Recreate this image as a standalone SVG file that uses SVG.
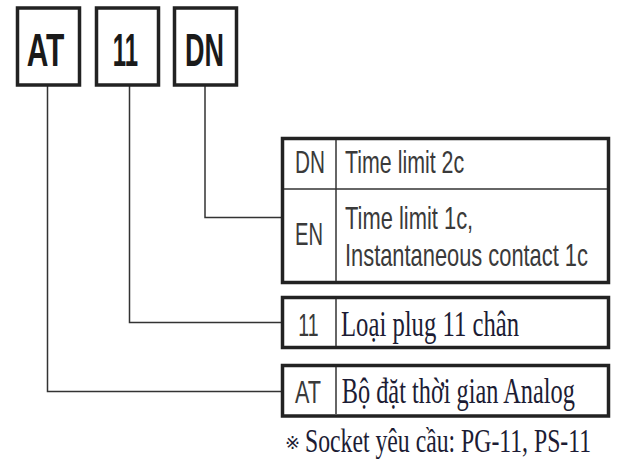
<svg xmlns="http://www.w3.org/2000/svg" width="619" height="460" viewBox="0 0 619 460">
<style>
.box{fill:#fff;stroke:#222;stroke-width:3.5}
.div{stroke:#333;stroke-width:1.5;fill:none}
.conn{stroke:#333;stroke-width:1.5;fill:none}
.big{font-family:"Liberation Sans",Arial,sans-serif;font-weight:bold;font-size:46px;fill:#1a1a1a}
.lab{font-family:"Liberation Sans",Arial,sans-serif;font-size:32px;fill:#3a3a3a}
.ser{font-family:"Liberation Serif","Times New Roman",serif;font-size:36px;fill:#1c1c34}
.note{font-family:"Liberation Serif","Times New Roman",serif;font-size:34px;fill:#1c1c34}
.mark{font-family:"DejaVu Sans",sans-serif;font-size:18px;fill:#1c1c34}
</style>
<rect width="619" height="460" fill="#fff"/>
<g id="connectors">
<polyline class="conn" points="47.5,86 47.5,391.5 283,391.5"/>
<polyline class="conn" points="129.5,86 129.5,322.5 283,322.5"/>
<polyline class="conn" points="205,86 205,217.5 283,217.5"/>
</g>
<g id="node-AT">
<rect class="box" x="17.5" y="8" width="62" height="77"/>
<text class="big" transform="translate(26.7,66) scale(0.652,1)">AT</text>
</g>
<g id="node-11">
<rect class="box" x="96.5" y="8" width="62" height="77"/>
<text class="big" transform="translate(112.7,66) scale(0.52,1)">11</text>
</g>
<g id="node-DN">
<rect class="box" x="174.5" y="8" width="62" height="77"/>
<text class="big" transform="translate(185,66) scale(0.587,1)">DN</text>
</g>
<g id="table-DN-EN">
<rect class="box" x="282.5" y="138.5" width="326" height="144"/>
<line class="div" x1="336" y1="140" x2="336" y2="281"/>
<line class="div" x1="284" y1="189" x2="607" y2="189"/>
<text class="lab" transform="translate(295,173) scale(0.649,1)">DN</text>
<text class="lab" transform="translate(345,173) scale(0.668,1)">Time limit 2c</text>
<text class="lab" transform="translate(295,245) scale(0.63,1)">EN</text>
<text class="lab" transform="translate(345,229) scale(0.685,1)">Time limit 1c,</text>
<text class="lab" transform="translate(345,266) scale(0.683,1)">Instantaneous contact 1c</text>
</g>
<g id="table-11">
<rect class="box" x="282.5" y="297.5" width="326" height="50"/>
<line class="div" x1="336" y1="299" x2="336" y2="346"/>
<text class="lab" transform="translate(298.3,336) scale(0.61,1)">11</text>
<text class="ser" transform="translate(341,336) scale(0.686,1)">Loại plug 11 chân</text>
</g>
<g id="table-AT">
<rect class="box" x="282.5" y="365.5" width="326" height="50.5"/>
<line class="div" x1="336" y1="367" x2="336" y2="414"/>
<text class="lab" transform="translate(295,403) scale(0.677,1)">AT</text>
<text class="ser" transform="translate(341.7,403) scale(0.676,1)">Bộ đặt thời gian Analog</text>
</g>
<g id="note">
<text class="mark" x="285" y="449">※</text>
<text class="note" transform="translate(305,452) scale(0.698,1)">Socket yêu cầu: PG-11, PS-11</text>
</g>
</svg>
